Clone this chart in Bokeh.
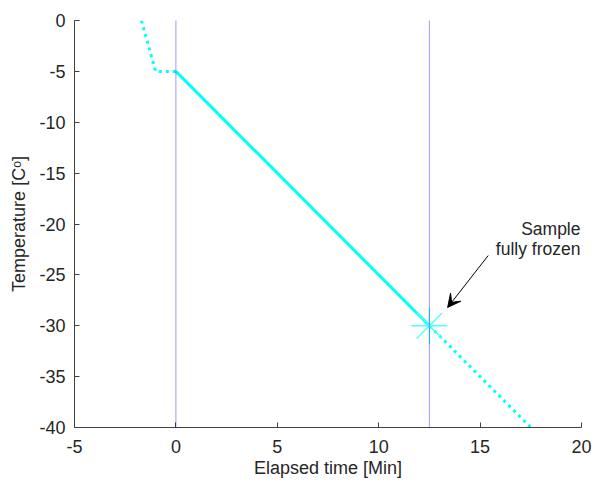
from bokeh.plotting import figure
from bokeh.models import Range1d, Span, Arrow, VeeHead, FixedTicker, CustomJSTickFormatter
from bokeh.core.properties import value
from bokeh.embed import file_html
from bokeh.resources import INLINE

# pre-cooling (dotted), controlled cooling (solid), after freezing (dotted)
time_pre = [-1.7, -1.0, 0.0]
temp_pre = [0.0, -5.0, -5.0]
time_cool = [0.0, 12.5]
temp_cool = [-5.0, -30.0]
time_post = [12.5, 17.5]
temp_post = [-30.0, -40.0]

event_times = [0.0, 12.5]
frozen_time = [12.5]
frozen_temp = [-30.0]

x_ticks = [-5, 0, 5, 10, 15, 20]
y_ticks = [0, -5, -10, -15, -20, -25, -30, -35, -40]

FONT = "Liberation Sans"
INK = "#262626"
CYAN = "#00ffff"

p = figure(width=595, height=484, output_backend="svg", toolbar_location=None,
           x_range=Range1d(-5, 20), y_range=Range1d(-40, 0))
p.min_border_left = 74
p.min_border_right = 14
p.min_border_top = 20
p.min_border_bottom = 57
p.outline_line_color = None
p.grid.visible = False

# plain hyphen minus like the original, not the unicode minus
plain = CustomJSTickFormatter(code="return tick.toString();")
p.xaxis.ticker = FixedTicker(ticks=x_ticks)
p.yaxis.ticker = FixedTicker(ticks=y_ticks)
for ax in (p.xaxis, p.yaxis):
    ax.formatter = plain
    ax.axis_line_color = "#404040"
    ax.major_tick_line_color = "#404040"
    ax.major_tick_in = 5
    ax.major_tick_out = 0
    ax.minor_tick_line_color = None
    ax.major_label_text_font = FONT
    ax.major_label_text_font_size = "18px"
    ax.major_label_text_color = INK
    ax.axis_label_text_font = FONT
    ax.axis_label_text_font_size = "18px"
    ax.axis_label_text_color = INK
    ax.axis_label_text_font_style = "normal"

p.xaxis.axis_label = "Elapsed time [Min]"
p.yaxis.axis_label = "Temperature [C\u1d52]"
p.xaxis.major_label_standoff = 12
p.yaxis.major_label_standoff = 9
p.xaxis.axis_label_standoff = 2
p.yaxis.axis_label_standoff = 7

for t in event_times:
    p.add_layout(Span(location=t, dimension="height", line_color="#1a1aee",
                      line_alpha=0.85, line_width=1, line_dash="1 1"))

p.line(time_pre, temp_pre, line_color=CYAN, line_width=3, line_dash="3 4")
p.line(time_cool, temp_cool, line_color=CYAN, line_width=3)
p.line(time_post, temp_post, line_color=CYAN, line_width=3, line_dash="3 4")
p.scatter(frozen_time, frozen_temp, marker="asterisk", size=36,
          line_color="#4dffff", line_width=1.3)

p.add_layout(Arrow(end=VeeHead(size=13, fill_color="black", line_color="black"),
                   x_start=15.4, y_start=-23.1, x_end=13.4, y_end=-28.2,
                   line_color="black", line_width=1))

p.text([19.95], [-20.45], text=["Sample"], text_align="right",
       text_baseline="alphabetic", text_font=value(FONT),
       text_font_size="17.5px", text_color=INK)
p.text([19.95], [-22.5], text=["fully frozen"], text_align="right",
       text_baseline="alphabetic", text_font=value(FONT),
       text_font_size="17.5px", text_color=INK)

open("out.html", "w").write(file_html(p, INLINE))
